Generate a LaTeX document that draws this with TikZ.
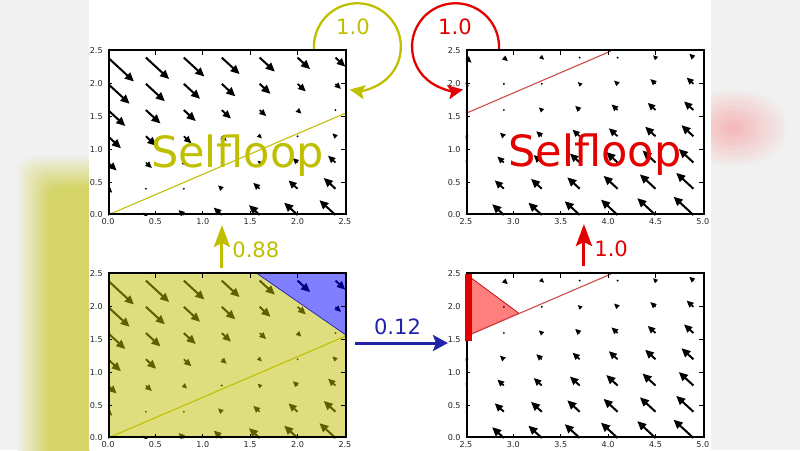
\documentclass[tikz,border=0pt]{standalone}
\usepackage{fontspec}
\setmainfont{DejaVu Sans}
\usetikzlibrary{arrows.meta}

\definecolor{mplyellow}{RGB}{191,191,0}
\definecolor{mplred}{RGB}{228,0,0}
\definecolor{mplblue}{RGB}{35,35,170}
\definecolor{lineRed}{RGB}{205,70,70}
\definecolor{margingray}{RGB}{241,241,241}

% arrows of the field, #1 = first column, #2 = scale
\newcommand{\quivers}[2]{%
  \foreach \i in {0,...,6}{
    \foreach \j in {0,...,6}{
      \pgfmathsetmacro{\qx}{#1+0.4*\i}
      \pgfmathsetmacro{\qy}{0.4*\j}
      \pgfmathsetmacro{\qd}{#2*(\qy-0.62*\qx)}
      \pgfmathsetmacro{\qpx}{abs(\qd)*77.4}
      \pgfmathsetmacro{\qs}{min(1,0.4+\qpx/25)}
      \ifdim\qpx pt<2.5pt
        \fill (\qx,\qy) circle (0.6pt);
      \else
        \draw[line width=1.15*\qs pt, -{Triangle[length=0.18cm,width=0.16cm,scale=\qs]}]
          (\qx,\qy) -- ++({0.6*\qd},{-0.8*\qd});
      \fi
    }
  }
}

% ticks and tick labels, #1 = left x, #2 = x labels, #3 = name prefix
\newcommand{\plotaxes}[3]{%
  \foreach \t in {0.5,1.0,1.5,2.0}{
    \draw[tickmark] (#1+\t,0) -- ++(0,0.08cm);
    \draw[tickmark] (#1+\t,2.5) -- ++(0,-0.08cm);
    \draw[tickmark] (#1,\t) -- ++(0.08cm,0);
    \draw[tickmark] (#1+2.5,\t) -- ++(-0.08cm,0);
  }
  \foreach \t [count=\n] in {#2}
    \node[ticklab, anchor=north, yshift=-0.07cm] (#3x\n) at (\t,0) {\t};
  \foreach \t [count=\n] in {0.0,0.5,1.0,1.5,2.0,2.5}
    \node[ticklab, anchor=east, xshift=-0.1cm] (#3y\n) at (#1,\t) {\t};
}

\begin{document}
\begin{tikzpicture}[x=0.02cm, y=0.02cm,
    plotbox/.style={draw, line width=0.04cm, minimum width=4.74cm, minimum height=3.28cm,
      inner sep=0pt, anchor=south west},
    tickmark/.style={line width=0.5pt},
    ticklab/.style={font=\fontsize{4.6}{5}\selectfont, text=black!85, inner sep=0pt},
    biglab/.style={font=\fontsize{24.5}{28}\selectfont, inner sep=0pt, anchor=base},
    numlab/.style={font=\fontsize{12}{14}\selectfont, inner sep=0pt},
    yline/.style={mplyellow, line width=0.6pt},
    rline/.style={lineRed, line width=0.6pt},
    uparrow/.style={line width=1.7pt, -{Stealth[length=0.44cm,width=0.32cm,inset=0.08cm]}},
    sidearrow/.style={line width=1.7pt, -{Stealth[length=0.3cm,width=0.32cm,inset=0.06cm]}},
    selfarrow/.style={line width=1.3pt, -{Stealth[length=0.3cm,width=0.28cm,inset=0.06cm]}}]
\useasboundingbox (0,0) rectangle (800,450);

% background and blurred margins
\fill[margingray] (0,0) rectangle (800,450);
\begin{scope}
  \clip (0,0) rectangle (89,450);
  \foreach \k [evaluate=\k as \pc using int(3.5*\k)] in {1,...,16}
    \fill[mplyellow!\pc!margingray, rounded corners=0.3cm] (16+2*\k,-20) rectangle (120,296-2*\k);
\end{scope}
\begin{scope}
  \clip (711,0) rectangle (800,450);
  \foreach \k [evaluate=\k as \pc using int(1.5*\k)] in {1,...,16}
    \fill[red!\pc!margingray] (733,322) ellipse [x radius={(17-\k)*0.07cm}, y radius={(17-\k)*0.05cm}];
\end{scope}
\fill[white] (89,0) rectangle (711,450);

% top left
\begin{scope}[shift={(108,235)}, x=1.896cm, y=1.312cm]
  \begin{scope}
    \clip (0,0) rectangle (2.5,2.5);
    \quivers{0}{0.19}
    \draw[yline] (0,0) -- (2.5,1.55);
  \end{scope}
  \plotaxes{0}{0.0,0.5,1.0,1.5,2.0,2.5}{tl}
  \node[plotbox] (tl) at (0,0) {};
\end{scope}

% top right
\begin{scope}[shift={(229,235)}, x=1.896cm, y=1.312cm]
  \begin{scope}
    \clip (2.5,0) rectangle (5,2.5);
    \quivers{2.5}{0.115}
    \draw[rline] (2.5,1.55) -- (4.03,2.5);
  \end{scope}
  \plotaxes{2.5}{2.5,3.0,3.5,4.0,4.5,5.0}{tr}
  \node[plotbox] (tr) at (2.5,0) {};
\end{scope}

% bottom left
\begin{scope}[shift={(108,12)}, x=1.896cm, y=1.312cm]
  \begin{scope}
    \clip (0,0) rectangle (2.5,2.5);
    \quivers{0}{0.19}
    \fill[mplyellow, opacity=0.5] (0,0) -- (2.5,0) -- (2.5,1.58) -- (1.58,2.5) -- (0,2.5) -- cycle;
    \fill[blue, opacity=0.5] (1.58,2.5) -- (2.5,2.5) -- (2.5,1.58) -- cycle;
    \draw[mplblue, line width=0.4pt] (1.58,2.5) -- (2.5,1.58);
    \draw[yline] (0,0) -- (2.5,1.55);
  \end{scope}
  \plotaxes{0}{0.0,0.5,1.0,1.5,2.0,2.5}{bl}
  \node[plotbox] (bl) at (0,0) {};
\end{scope}

% bottom right
\begin{scope}[shift={(229,12)}, x=1.896cm, y=1.312cm]
  \begin{scope}
    \clip (2.5,0) rectangle (5,2.5);
    \quivers{2.5}{0.115}
    \fill[red, opacity=0.5] (2.5,2.5) -- (3.06,1.9) -- (2.5,1.55) -- cycle;
    \draw[red!75!black, line width=0.4pt] (2.5,2.5) -- (3.06,1.9) -- (2.5,1.55);
    \draw[rline] (2.5,1.55) -- (4.03,2.5);
  \end{scope}
  \plotaxes{2.5}{2.5,3.0,3.5,4.0,4.5,5.0}{br}
  \node[plotbox] (br) at (2.5,0) {};
  \fill[mplred] (2.49,1.48) rectangle (2.565,2.5);
\end{scope}

% labels
\node[biglab, mplyellow] (selfyel) at (237.5,282) {Selfloop};
\node[biglab, mplred] (selfred) at (595,283) {Selfloop};

% transitions
\draw[uparrow, mplyellow] ([xshift=-0.11cm, yshift=0.08cm]bl.north) -- ([xshift=-0.11cm, yshift=-0.2cm]tl.south);
\node[numlab, mplyellow, anchor=west] (p088) at (232,200) {0.88};

\draw[uparrow, mplred] ([xshift=-0.03cm, yshift=0.12cm]br.north) -- ([xshift=-0.03cm, yshift=-0.18cm]tr.south);
\node[numlab, mplred, anchor=west] (p10) at (594,201) {1.0};

\draw[sidearrow, mplblue] ([xshift=0.16cm, yshift=0.24cm]bl.east) -- ([xshift=-0.36cm, yshift=0.24cm]br.west);
\node[numlab, mplblue] (p012) at (397.5,123) {0.12};

\draw[selfarrow, mplyellow] ([xshift=-0.66cm]tl.north east) arc[start angle=183, end angle=-100, radius=0.87cm];
\node[numlab, mplyellow] (loopyel) at (353,423) {1.0};

\draw[selfarrow, mplred] ([xshift=0.66cm]tr.north west) arc[start angle=-3, end angle=280, radius=0.87cm];
\node[numlab, mplred] (loopred) at (455,423) {1.0};
\end{tikzpicture}
\end{document}
